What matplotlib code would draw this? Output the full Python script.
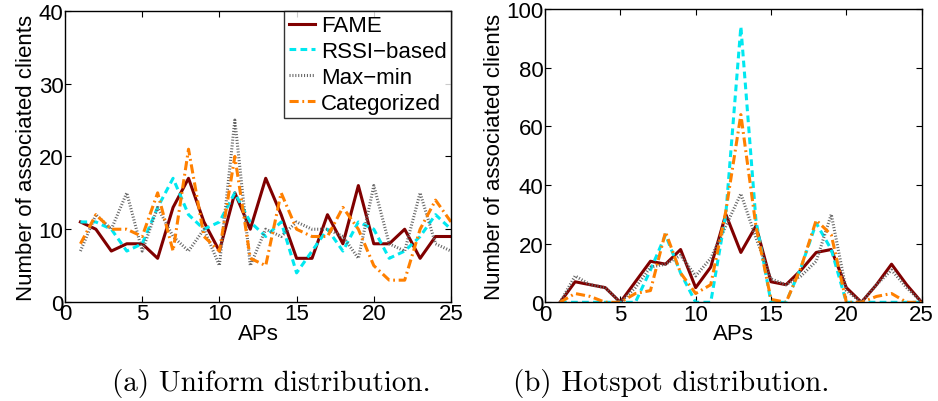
import numpy as np
import matplotlib
matplotlib.use("Agg")
import matplotlib.pyplot as plt

plt.rcParams['font.family'] = ['Liberation Sans', 'DejaVu Sans']

# AP index
aps = np.arange(1, 26)

# (a) Uniform distribution
uni_fame = [11, 10, 7, 8, 8, 6, 13, 17, 11, 7, 15, 10, 17, 12, 6, 6, 12, 8, 16, 8, 8, 10, 6, 9, 9]
uni_rssi = [11, 11, 10, 7, 8, 13, 17, 12, 10, 11, 15, 11, 9, 11, 4, 7, 10, 7, 11, 10, 6, 7, 9, 12, 10]
uni_maxmin = [7, 12, 10, 15, 7, 13, 9, 7, 10, 5, 25, 5, 10, 9, 11, 10, 10, 9, 6, 16, 8, 7, 15, 8, 7]
uni_cat = [8, 12, 10, 10, 9, 15, 7, 21, 9, 7, 20, 6, 5, 15, 10, 9, 9, 13, 10, 5, 3, 3, 10, 14, 11]

# (b) Hotspot distribution
hot_fame = [0, 7, 6, 5, 0, 7, 14, 13, 18, 5, 12, 30, 17, 26, 7, 6, 11, 17, 18, 5, 0, 6, 13, 6, 0]
hot_rssi = [0, 0, 0, 0, 0, 0, 11, 23, 10, 0, 0, 30, 94, 28, 0, 0, 12, 27, 18, 0, 0, 0, 0, 0, 0]
hot_maxmin = [0, 9, 6, 5, 0, 5, 12, 13, 16, 9, 15, 26, 37, 22, 8, 6, 9, 14, 30, 4, 0, 6, 11, 5, 0]
hot_cat = [0, 3, 2, 0, 0, 3, 4, 24, 10, 3, 6, 31, 64, 26, 1, 0, 12, 28, 23, 0, 0, 2, 3, 0, 0]

labels = ["FAME", "RSSI\u2212based", "Max\u2212min", "Categorized"]
styles = [
    dict(color="#800000", linestyle="-", linewidth=2.2),
    dict(color="#00E8F0", linestyle=(0, (2.2, 1.4)), linewidth=2.2),
    dict(color="#666666", linestyle=(0, (0.35, 0.6)), linewidth=2.2),
    dict(color="#FF8000", linestyle=(0, (3.0, 1.2, 0.6, 1.2)), linewidth=2.2),
]

fig = plt.figure(figsize=(9.38, 4.02), dpi=100)
ax_uni = fig.add_axes([0.0693, 0.2463, 0.4115, 0.724])
ax_hot = fig.add_axes([0.581, 0.2455, 0.4016, 0.7296])


def draw(ax, series, ymax, yticks):
    for values, label, style in zip(series, labels, styles):
        ax.plot(aps, values, label=label, **style)
    ax.set_xlim(0, 25)
    ax.set_ylim(0, ymax)
    ax.set_xticks([0, 5, 10, 15, 20, 25])
    ax.set_yticks(yticks)
    ax.tick_params(direction="in", top=True, right=True, labelsize=16, length=4, pad=1)
    ax.set_xlabel("APs", fontsize=16, labelpad=-1)
    ax.set_ylabel("Number of associated clients", fontsize=16, labelpad=1)
    for spine in ax.spines.values():
        spine.set_linewidth(1.0)


draw(ax_uni, [uni_fame, uni_rssi, uni_maxmin, uni_cat], 40, [0, 10, 20, 30, 40])
draw(ax_hot, [hot_fame, hot_rssi, hot_maxmin, hot_cat], 100, [0, 20, 40, 60, 80, 100])

leg = ax_uni.legend(loc="upper right", fontsize=16, frameon=True, fancybox=False,
                    borderpad=0.2, labelspacing=0.22, handlelength=1.2,
                    handletextpad=0.25, borderaxespad=0.0)
leg.get_frame().set_edgecolor("black")
leg.get_frame().set_linewidth(1.0)

fig.text(0.289, 0.047, "(a) Uniform distribution.", ha="center", va="center",
         fontsize=21, family="cmr10")
fig.text(0.716, 0.047, "(b) Hotspot distribution.", ha="center", va="center",
         fontsize=21, family="cmr10")

fig.savefig("out.png", dpi=100)
